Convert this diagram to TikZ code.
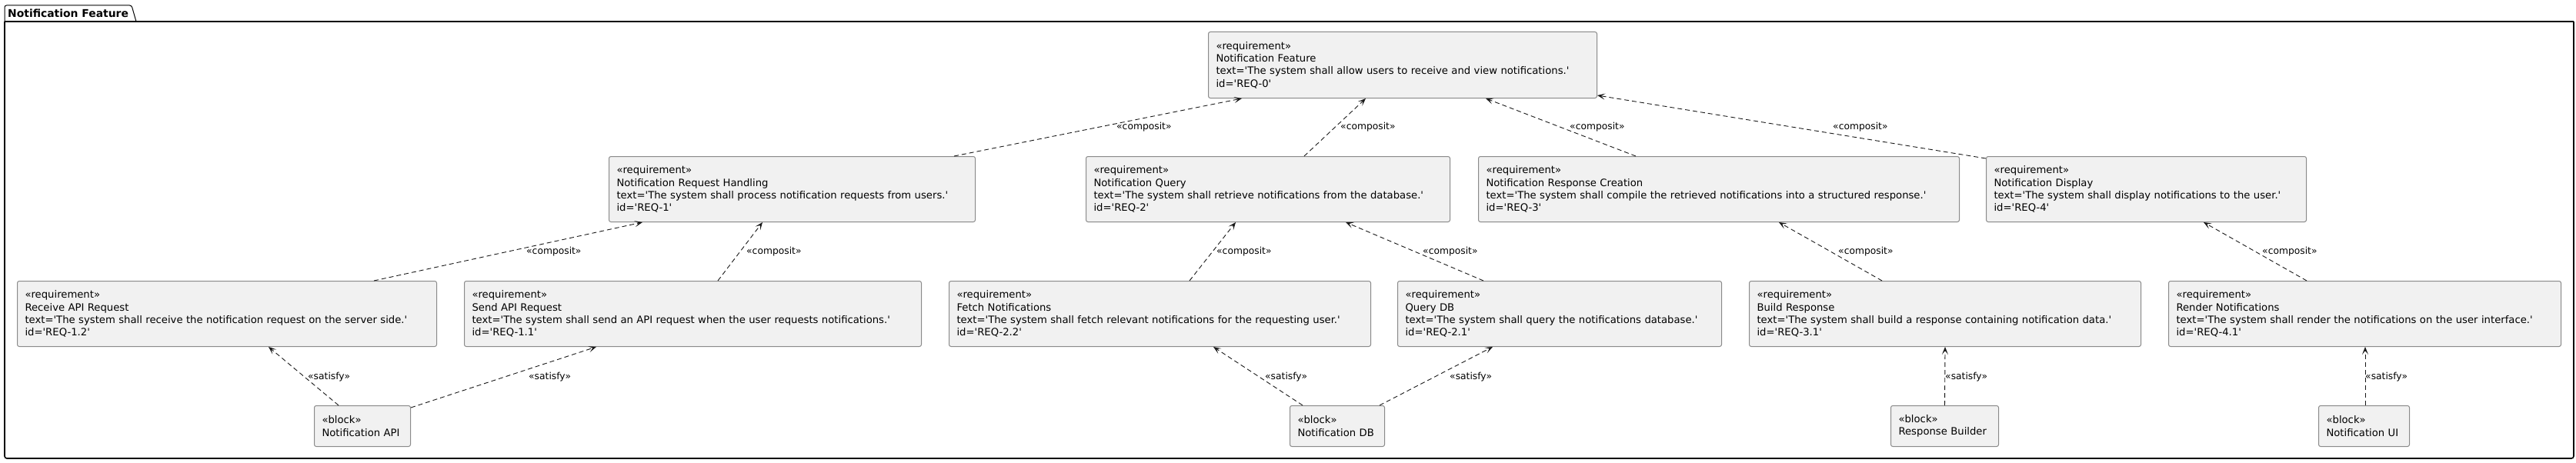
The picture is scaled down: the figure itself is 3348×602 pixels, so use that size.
\documentclass[tikz,border=0pt]{standalone}
\usepackage{fontspec}
\newfontfamily\djv{DejaVu Sans}
\usetikzlibrary{arrows.meta}
\definecolor{boxfill}{HTML}{F1F1F1}
\definecolor{boxline}{HTML}{8A8A8A}
\definecolor{relline}{HTML}{181818}
\newcommand\myMainFs{\djv\fontsize{13.2}{16.3}\selectfont}
\newcommand\myLabFs{\djv\fontsize{12.3}{14}\selectfont}
\newcommand\myTabFs{\djv\fontsize{13.9}{16}\selectfont\bfseries}
\tikzset{
  req/.style={draw=boxline, fill=boxfill, line width=1pt, rounded corners=2.5pt,
    inner xsep=10pt, inner ysep=0pt, align=left, anchor=north west, font=\myMainFs},
  rel/.style={draw=relline, line width=0.9pt, dash pattern=on 6pt off 4pt,
    -{Stealth[length=10pt,width=8pt,inset=5pt]}},
  lab/.style={anchor=west, font=\myLabFs, inner sep=0pt},
  pkg/.style={draw=black, line width=1.6pt},
}
\begin{document}
\begin{tikzpicture}[x=1pt,y=-1pt]
\useasboundingbox (0,0) rectangle (3348,602);
% package frame
\draw[pkg, rounded corners=3pt] (6,28) -- (6,596) -- (3345,596) -- (3345,28);
\draw[pkg] (6,28) -- (3345,28);
\draw[pkg, line width=1pt, rounded corners=2.5pt] (6,28) -- (6,7) -- (171,7) -- (177,28);
\node[anchor=west, font=\myTabFs, inner sep=0pt] (tab) at (10,17) {Notification Feature};

% row 0
\node[req, text width=485pt, minimum height=86pt] (r0) at (1570,41)
 {«requirement»\\Notification Feature\\text='The system shall allow users to receive and view notifications.'\\id='REQ-0'};
% row 1
\node[req, text width=456pt, minimum height=85pt] (r1) at (791,203)
 {«requirement»\\Notification Request Handling\\text='The system shall process notification requests from users.'\\id='REQ-1'};
\node[req, text width=453pt, minimum height=85pt] (r2) at (1411,203)
 {«requirement»\\Notification Query\\text='The system shall retrieve notifications from the database.'\\id='REQ-2'};
\node[req, text width=605pt, minimum height=85pt] (r3) at (1921,203)
 {«requirement»\\Notification Response Creation\\text='The system shall compile the retrieved notifications into a structured response.'\\id='REQ-3'};
\node[req, text width=396pt, minimum height=85pt] (r4) at (2581,203)
 {«requirement»\\Notification Display\\text='The system shall display notifications to the user.'\\id='REQ-4'};
% row 2
\node[req, text width=525pt, minimum height=85pt] (r12) at (22,365)
 {«requirement»\\Receive API Request\\text='The system shall receive the notification request on the server side.'\\id='REQ-1.2'};
\node[req, text width=574pt, minimum height=85pt] (r11) at (603,365)
 {«requirement»\\Send API Request\\text='The system shall send an API request when the user requests notifications.'\\id='REQ-1.1'};
\node[req, text width=528pt, minimum height=85pt] (r22) at (1233,365)
 {«requirement»\\Fetch Notifications\\text='The system shall fetch relevant notifications for the requesting user.'\\id='REQ-2.2'};
\node[req, text width=401pt, minimum height=85pt] (r21) at (1816,365)
 {«requirement»\\Query DB\\text='The system shall query the notifications database.'\\id='REQ-2.1'};
\node[req, text width=489pt, minimum height=85pt] (r31) at (2273,365)
 {«requirement»\\Build Response\\text='The system shall build a response containing notification data.'\\id='REQ-3.1'};
\node[req, text width=490pt, minimum height=85pt] (r41) at (2818,365)
 {«requirement»\\Render Notifications\\text='The system shall render the notifications on the user interface.'\\id='REQ-4.1'};
% row 3 blocks
\node[req, text width=105pt, minimum height=53pt] (bApi) at (408,527) {«block»\\Notification API};
\node[req, text width=103pt, minimum height=53pt] (bDb) at (1676,527) {«block»\\Notification DB};
\node[req, text width=120pt, minimum height=53pt] (bRb) at (2457,527) {«block»\\Response Builder};
\node[req, text width=98pt, minimum height=53pt] (bUi) at (3013,527) {«block»\\Notification UI};

% composit relations to REQ-0
\draw[rel] ([xshift=449pt]r1.north west) -- ([xshift=44pt]r0.south west);
\draw[rel] ([xshift=284pt]r2.north west) -- ([xshift=205pt]r0.south west);
\draw[rel] ([xshift=205pt]r3.north west) -- ([xshift=361pt]r0.south west);
\draw[rel] ([yshift=-3pt]r4.north west) -- ([yshift=4pt]r0.south east);
\node[lab] (l1) at (1451,165) {«composit»};
\node[lab] (l2) at (1742,165) {«composit»};
\node[lab] (l3) at (2040,165) {«composit»};
\node[lab] (l4) at (2382,165) {«composit»};
% composit relations row 2 -> row 1
\draw[rel] ([xshift=464pt]r12.north west) -- ([xshift=44pt]r1.south west);
\draw[rel] ([xshift=330pt]r11.north west) -- ([xshift=200pt]r1.south west);
\draw[rel] ([xshift=313pt]r22.north west) -- ([xshift=195pt]r2.south west);
\draw[rel] ([xshift=112pt]r21.north west) -- ([xshift=338pt]r2.south west);
\draw[rel] ([xshift=173pt]r31.north west) -- ([xshift=391pt]r3.south west);
\draw[rel] ([xshift=180pt]r41.north west) -- ([xshift=283pt]r4.south west);
\node[lab] (l5) at (684,327) {«composit»};
\node[lab] (l6) at (970,327) {«composit»};
\node[lab] (l7) at (1581,327) {«composit»};
\node[lab] (l8) at (1849,327) {«composit»};
\node[lab] (l9) at (2389,327) {«composit»};
\node[lab] (l10) at (2940,327) {«composit»};
% satisfy relations
\draw[rel] ([xshift=32pt]bApi.north west) -- ([xshift=327pt]r12.south west);
\draw[rel] ([yshift=-3pt]bApi.north east) -- ([xshift=172pt]r11.south west);
\draw[rel] ([xshift=17pt]bDb.north west) -- ([xshift=344pt]r22.south west);
\draw[rel] ([xshift=117pt]bDb.north west) -- ([xshift=124pt]r21.south west);
\draw[rel] (bRb.north) -- ([xshift=255pt]r31.south west);
\draw[rel] ([xshift=61pt]bUi.north west) -- ([xshift=256pt]r41.south west);
\node[lab] (s1) at (400,490) {«satisfy»};
\node[lab] (s2) at (687,490) {«satisfy»};
\node[lab] (s3) at (1644,490) {«satisfy»};
\node[lab] (s4) at (1884,490) {«satisfy»};
\node[lab] (s5) at (2528,490) {«satisfy»};
\node[lab] (s6) at (3074,490) {«satisfy»};
\end{tikzpicture}
\end{document}
